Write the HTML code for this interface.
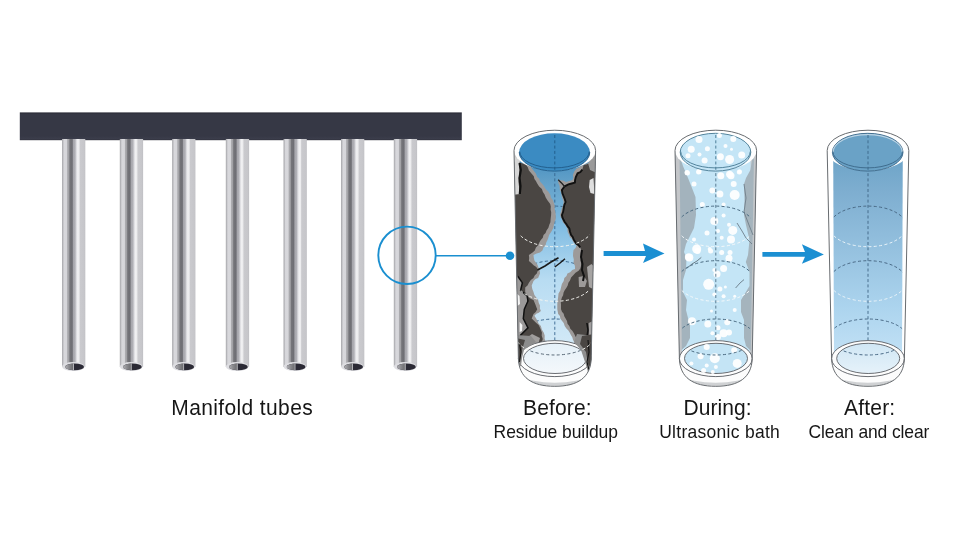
<!DOCTYPE html>
<html><head><meta charset="utf-8">
<style>
html,body{margin:0;padding:0;background:#fff;}
body{width:960px;height:540px;overflow:hidden;position:relative;font-family:"Liberation Sans",sans-serif;color:#161616;}
svg{position:absolute;left:0;top:0;}
.lbl{position:absolute;white-space:nowrap;line-height:1;}
.t1{font-size:21px;transform:scaleY(1.045);transform-origin:0 18px;}
.t2{font-size:17.5px;transform:scaleY(1.04);transform-origin:0 14px;}
</style></head>
<body>
<svg width="960" height="540" viewBox="0 0 960 540">
<defs>
  <linearGradient id="tubeG" x1="0" x2="1" y1="0" y2="0">
    <stop offset="0" stop-color="#a8a8ac"/>
    <stop offset="0.04" stop-color="#b8b8bc"/>
    <stop offset="0.09" stop-color="#d8d8dc"/>
    <stop offset="0.2" stop-color="#d6d6da"/>
    <stop offset="0.24" stop-color="#acacb0"/>
    <stop offset="0.29" stop-color="#a2a2a6"/>
    <stop offset="0.34" stop-color="#747479"/>
    <stop offset="0.44" stop-color="#6e6e74"/>
    <stop offset="0.49" stop-color="#a6a6ac"/>
    <stop offset="0.56" stop-color="#b0b0b6"/>
    <stop offset="0.62" stop-color="#dcdce0"/>
    <stop offset="0.67" stop-color="#f0f0f2"/>
    <stop offset="0.73" stop-color="#ececee"/>
    <stop offset="0.78" stop-color="#cacace"/>
    <stop offset="0.96" stop-color="#c6c6ca"/>
    <stop offset="1" stop-color="#bcbcc0"/>
  </linearGradient>
  <filter id="soft" x="-50%" y="-50%" width="200%" height="200%"><feGaussianBlur stdDeviation="0.35"/></filter>
  <linearGradient id="holeG" x1="0" x2="1" y1="0" y2="0">
    <stop offset="0" stop-color="#b0b0b4"/>
    <stop offset="0.5" stop-color="#8a8a8e"/>
    <stop offset="1" stop-color="#6c6c70"/>
  </linearGradient>
  <linearGradient id="barG" x1="0" x2="0" y1="0" y2="1">
    <stop offset="0" stop-color="#2a2b36"/>
    <stop offset="0.08" stop-color="#363845"/>
    <stop offset="0.85" stop-color="#363845"/>
    <stop offset="0.95" stop-color="#3b3d4b"/>
    <stop offset="1" stop-color="#30313c"/>
  </linearGradient>
  <linearGradient id="gBefore" gradientUnits="userSpaceOnUse" x1="0" y1="150" x2="0" y2="360">
    <stop offset="0" stop-color="#3d8ac0"/>
    <stop offset="0.15" stop-color="#62a0c8"/>
    <stop offset="0.36" stop-color="#80bce2"/>
    <stop offset="0.62" stop-color="#b8dcf2"/>
    <stop offset="1" stop-color="#d8ecf8"/>
  </linearGradient>
  <linearGradient id="gAfter" gradientUnits="userSpaceOnUse" x1="0" y1="150" x2="0" y2="360">
    <stop offset="0" stop-color="#6aa2c6"/>
    <stop offset="0.2" stop-color="#7eaed0"/>
    <stop offset="0.75" stop-color="#acd4ee"/>
    <stop offset="1" stop-color="#c4e2f6"/>
  </linearGradient>
  <linearGradient id="gBaseB" gradientUnits="userSpaceOnUse" x1="0" y1="342" x2="0" y2="374">
    <stop offset="0" stop-color="#e4f0f8"/>
    <stop offset="1" stop-color="#f4f8fb"/>
  </linearGradient>
  <linearGradient id="gBaseA" gradientUnits="userSpaceOnUse" x1="0" y1="342" x2="0" y2="374">
    <stop offset="0" stop-color="#cfe6f4"/>
    <stop offset="1" stop-color="#e6f2fa"/>
  </linearGradient>
</defs>
<rect x="19.8" y="112.4" width="442" height="27.8" fill="url(#barG)"/>
<g transform="translate(62,0)"><rect x="0" y="139" width="23.3" height="228" fill="url(#tubeG)"/><ellipse cx="11.4" cy="366.6" rx="11.4" ry="4.5" fill="#dedee2"/><ellipse cx="12.6" cy="366.9" rx="9.4" ry="3.3" fill="#2b2a35"/><path d="M3.2,366.9 A9.4,3.3 0 0 1 11.2,363.65 V370.15 A9.4,3.3 0 0 1 3.2,366.9 Z" fill="url(#holeG)"/><line x1="11.5" y1="363.6" x2="11.5" y2="370.2" stroke="#d4d4d8" stroke-width="0.8"/></g>
<g transform="translate(119.8,0)"><rect x="0" y="139" width="23.3" height="228" fill="url(#tubeG)"/><ellipse cx="11.4" cy="366.6" rx="11.4" ry="4.5" fill="#dedee2"/><ellipse cx="12.6" cy="366.9" rx="9.4" ry="3.3" fill="#2b2a35"/><path d="M3.2,366.9 A9.4,3.3 0 0 1 11.2,363.65 V370.15 A9.4,3.3 0 0 1 3.2,366.9 Z" fill="url(#holeG)"/><line x1="11.5" y1="363.6" x2="11.5" y2="370.2" stroke="#d4d4d8" stroke-width="0.8"/></g>
<g transform="translate(172.1,0)"><rect x="0" y="139" width="23.3" height="228" fill="url(#tubeG)"/><ellipse cx="11.4" cy="366.6" rx="11.4" ry="4.5" fill="#dedee2"/><ellipse cx="12.6" cy="366.9" rx="9.4" ry="3.3" fill="#2b2a35"/><path d="M3.2,366.9 A9.4,3.3 0 0 1 11.2,363.65 V370.15 A9.4,3.3 0 0 1 3.2,366.9 Z" fill="url(#holeG)"/><line x1="11.5" y1="363.6" x2="11.5" y2="370.2" stroke="#d4d4d8" stroke-width="0.8"/></g>
<g transform="translate(225.8,0)"><rect x="0" y="139" width="23.3" height="228" fill="url(#tubeG)"/><ellipse cx="11.4" cy="366.6" rx="11.4" ry="4.5" fill="#dedee2"/><ellipse cx="12.6" cy="366.9" rx="9.4" ry="3.3" fill="#2b2a35"/><path d="M3.2,366.9 A9.4,3.3 0 0 1 11.2,363.65 V370.15 A9.4,3.3 0 0 1 3.2,366.9 Z" fill="url(#holeG)"/><line x1="11.5" y1="363.6" x2="11.5" y2="370.2" stroke="#d4d4d8" stroke-width="0.8"/></g>
<g transform="translate(283.5,0)"><rect x="0" y="139" width="23.3" height="228" fill="url(#tubeG)"/><ellipse cx="11.4" cy="366.6" rx="11.4" ry="4.5" fill="#dedee2"/><ellipse cx="12.6" cy="366.9" rx="9.4" ry="3.3" fill="#2b2a35"/><path d="M3.2,366.9 A9.4,3.3 0 0 1 11.2,363.65 V370.15 A9.4,3.3 0 0 1 3.2,366.9 Z" fill="url(#holeG)"/><line x1="11.5" y1="363.6" x2="11.5" y2="370.2" stroke="#d4d4d8" stroke-width="0.8"/></g>
<g transform="translate(341,0)"><rect x="0" y="139" width="23.3" height="228" fill="url(#tubeG)"/><ellipse cx="11.4" cy="366.6" rx="11.4" ry="4.5" fill="#dedee2"/><ellipse cx="12.6" cy="366.9" rx="9.4" ry="3.3" fill="#2b2a35"/><path d="M3.2,366.9 A9.4,3.3 0 0 1 11.2,363.65 V370.15 A9.4,3.3 0 0 1 3.2,366.9 Z" fill="url(#holeG)"/><line x1="11.5" y1="363.6" x2="11.5" y2="370.2" stroke="#d4d4d8" stroke-width="0.8"/></g>
<g transform="translate(393.8,0)"><rect x="0" y="139" width="23.3" height="228" fill="url(#tubeG)"/><ellipse cx="11.4" cy="366.6" rx="11.4" ry="4.5" fill="#dedee2"/><ellipse cx="12.6" cy="366.9" rx="9.4" ry="3.3" fill="#2b2a35"/><path d="M3.2,366.9 A9.4,3.3 0 0 1 11.2,363.65 V370.15 A9.4,3.3 0 0 1 3.2,366.9 Z" fill="url(#holeG)"/><line x1="11.5" y1="363.6" x2="11.5" y2="370.2" stroke="#d4d4d8" stroke-width="0.8"/></g>
<circle cx="407" cy="255.3" r="28.7" fill="none" stroke="#1a8fd0" stroke-width="1.9"/>
<line x1="435.7" y1="255.8" x2="510" y2="255.8" stroke="#1a8fd0" stroke-width="1.6"/>
<circle cx="510" cy="255.8" r="4.3" fill="#1a8fd0"/>
<path d="M603.6,251 H645 L643,243.5 L664.5,253.4 L643,263 L646,256 H603.6 Z" fill="#1b8fd2"/>
<path d="M762.4,252.1 H805 L801.9,244.2 L823.9,254.4 L801.9,263.8 L805,256.8 H762.4 Z" fill="#1b8fd2"/>
<g id="before">
<clipPath id="cbB"><path d="M514.00,150.5 L518.40,358.6 C519.00,377.6 531.80,386.3 554.80,386.3 C577.80,386.3 590.60,377.6 591.20,358.6 L595.60,150.5 Z"/></clipPath>
<clipPath id="clB"><path d="M520.00,151.5 L520.80,362 L588.80,362 L589.60,151.5 Z"/></clipPath>
<g clip-path="url(#cbB)">
<path d="M514.00,150.5 L518.40,358.6 C519.00,377.6 531.80,386.3 554.80,386.3 C577.80,386.3 590.60,377.6 591.20,358.6 L595.60,150.5 Z" fill="#c9c9c9"/>
<path d="M520.00,151.5 L520.80,362 L588.80,362 L589.60,151.5 Z" fill="url(#gBefore)"/>
<g clip-path="url(#clB)">
<path d="M516.30,226.40 A38.50,20.30 0 0 1 593.30,226.40" fill="none" stroke="#3e6a90" stroke-width="1.0" stroke-dasharray="3 2.3"/>
<path d="M516.30,281.00 A38.50,20.30 0 0 1 593.30,281.00" fill="none" stroke="#3e6a90" stroke-width="1.0" stroke-dasharray="3 2.3"/>
<path d="M516.30,337.00 A38.50,18.00 0 0 1 593.30,337.00" fill="none" stroke="#3e6a90" stroke-width="1.0" stroke-dasharray="3 2.3"/>
</g>
<line x1="554.80" y1="136" x2="554.80" y2="343" stroke="#34658e" stroke-width="0.9" stroke-dasharray="3 2.3"/>
<path d="M505.0,160.0 L507.8,160.5 L510.5,161.0 L513.2,161.5 L516.0,162.0 L518.8,162.2 L521.5,163.3 L524.3,163.6 L527.0,164.5 L529.8,165.0 L531.5,167.9 L533.5,170.6 L535.9,173.5 L537.2,177.0 L539.3,178.8 L540.0,181.6 L541.9,183.5 L544.0,186.1 L545.6,189.0 L548.2,191.6 L550.2,194.6 L551.0,197.7 L553.0,200.2 L553.9,202.9 L554.8,205.7 L554.6,208.8 L555.4,211.9 L555.7,215.0 L555.7,219.3 L554.6,222.0 L553.9,224.8 L553.4,227.8 L552.0,230.4 L550.6,232.8 L549.1,235.1 L548.3,237.8 L547.4,240.3 L546.2,242.6 L545.6,245.2 L543.5,247.5 L542.4,250.5 L540.0,252.6 L536.6,253.5 L533.5,255.0 L533.8,257.8 L534.4,260.6 L537.2,264.3 L538.4,267.3 L539.7,270.2 L540.0,273.5 L538.1,278.1 L535.5,279.1 L533.5,280.9 L532.6,283.3 L531.7,285.6 L532.3,288.9 L533.5,292.0 L534.4,295.0 L536.3,297.6 L538.1,300.0 L538.8,302.9 L540.0,305.6 L539.9,308.4 L540.9,311.1 L538.8,312.8 L536.3,313.8 L534.4,315.7 L535.9,318.0 L537.2,320.4 L538.5,323.5 L540.9,325.9 L541.8,329.4 L543.7,332.4 L544.7,335.6 L544.6,338.9 L545.8,341.8 L546.0,345.0 L543.4,345.3 L540.9,345.6 L538.3,345.9 L535.8,346.2 L533.2,346.6 L530.6,346.9 L528.1,347.2 L525.5,347.5 L522.9,347.8 L520.4,348.1 L517.8,348.4 L515.2,348.8 L512.7,349.1 L510.1,349.4 L507.6,349.7 L505.0,350.0 Z" fill="#9d9a99"/>
<path d="M505.0,160.0 L507.8,160.5 L510.5,161.0 L513.2,161.5 L516.0,162.0 L518.6,162.4 L521.2,163.0 L523.6,164.1 L526.1,165.0 L527.9,167.6 L528.9,170.6 L532.1,174.3 L533.8,176.3 L534.4,178.9 L535.9,181.1 L537.2,183.5 L539.1,186.6 L541.9,189.0 L542.9,192.0 L544.6,194.6 L545.7,197.6 L547.4,200.2 L550.2,203.9 L550.8,206.6 L550.6,209.5 L551.2,212.2 L551.1,215.0 L550.6,219.3 L550.4,222.2 L549.3,224.8 L548.4,227.8 L546.5,230.4 L545.6,233.0 L543.5,235.1 L542.8,237.8 L540.8,240.0 L539.3,242.5 L538.1,245.2 L535.9,247.4 L534.8,250.4 L532.6,252.6 L528.9,255.0 L529.2,258.0 L528.9,261.0 L531.3,263.1 L533.6,265.3 L536.3,267.0 L538.1,269.8 L536.8,273.5 L534.7,275.5 L533.5,278.1 L530.8,280.1 L528.9,282.8 L527.5,285.5 L525.2,287.4 L525.2,292.0 L526.9,294.9 L528.9,297.6 L531.1,299.0 L533.5,300.0 L535.4,304.6 L536.3,307.0 L537.2,309.3 L535.7,311.9 L533.5,313.9 L531.7,318.5 L534.0,320.8 L536.3,323.1 L538.6,325.1 L540.0,327.8 L541.9,332.4 L541.7,335.7 L542.8,338.9 L541.9,341.9 L542.0,345.0 L539.4,345.4 L536.7,345.7 L534.1,346.1 L531.4,346.4 L528.8,346.8 L526.1,347.1 L523.5,347.5 L520.9,347.9 L518.2,348.2 L515.6,348.6 L512.9,348.9 L510.3,349.3 L507.6,349.6 L505.0,350.0 Z" fill="#4a4643"/>
<path d="M505,150 L519,160 L519.5,170 L518.5,182 L519.8,194 L505,196 Z" fill="#d6d6d6"/>
<path d="M519.5,163 L520.8,170 L519.5,178 L520.5,186 L519.8,194" fill="none" stroke="#111" stroke-width="2.2"/>
<path d="M505,274 L517.8,276.3 L522.4,282.8 L520.6,290.2 L527,295.7 L527,302.8 L524.3,309.3 L523.3,318.5 L528,327.8 L520.6,335.2 L519.6,345 L505,350 Z" fill="#9b9999"/>
<path d="M516,293 L519.5,296 L520,304 L516,307 Z" fill="#f4f4f4"/>
<path d="M519.6,322 L522.4,325 L522,331 L519.6,332 Z" fill="#f4f4f4"/>
<path d="M517.8,276.3 L522.4,282.8 L520.6,290.2 L527,295.7 L528,301 L524.3,309.3 L523.3,318.5 L528,327.8 L520.6,335.2 L519.6,342" fill="none" stroke="#111" stroke-width="1.5"/>
<path d="M532,334 L540,338 L538,345 L528,346 L524,340 Z" fill="#a09e9d"/>
<path d="M600.0,160.0 L596.9,160.8 L594.0,162.0 L591.3,162.4 L588.7,163.1 L586.0,163.7 L583.6,165.0 L581.1,166.0 L579.0,167.5 L576.4,168.8 L574.5,171.0 L572.8,175.0 L573.3,177.5 L572.5,180.0 L569.3,181.0 L566.0,182.0 L563.6,180.7 L560.9,180.3 L558.2,179.8 L558.3,183.0 L559.5,186.0 L559.8,190.0 L561.3,193.1 L561.7,196.5 L562.7,199.2 L563.6,202.0 L563.0,205.3 L561.7,208.5 L560.8,211.7 L560.0,215.0 L560.8,217.4 L562.4,219.4 L562.7,222.0 L564.6,223.9 L566.0,226.2 L567.3,228.5 L567.6,231.9 L569.1,235.0 L570.0,237.4 L572.0,239.1 L572.9,241.5 L574.5,243.6 L576.6,245.2 L575.5,247.9 L573.5,250.0 L573.1,253.0 L573.0,256.0 L573.8,259.5 L573.5,263.0 L574.9,265.8 L575.0,268.9 L572.2,270.0 L570.1,272.3 L567.4,273.5 L566.5,276.1 L564.3,278.1 L563.7,280.9 L561.9,283.9 L561.0,287.4 L560.3,290.6 L558.5,293.4 L558.2,296.7 L557.8,299.5 L557.4,302.2 L557.3,305.0 L557.3,309.3 L558.2,313.9 L559.9,316.0 L560.4,318.8 L562.1,320.9 L563.7,323.1 L564.7,325.9 L566.4,328.4 L568.4,330.6 L569.8,332.8 L570.9,335.1 L572.3,337.3 L573.0,339.8 L574.2,342.2 L575.0,344.7 L575.4,347.4 L575.8,350.0 L578.2,351.1 L580.9,351.4 L583.0,353.2 L585.6,353.8 L588.0,354.8 L590.1,356.4 L592.8,357.0 L595.3,357.8 L597.6,359.0 L600.0,360.0 Z" fill="#9d9a99"/>
<path d="M600.0,160.0 L596.9,160.6 L594.0,162.0 L591.3,162.3 L588.8,163.5 L586.3,164.6 L583.6,165.0 L582.3,169.6 L580.4,172.0 L577.6,173.3 L575.8,177.0 L575.1,179.8 L574.9,182.6 L571.7,183.5 L568.4,184.4 L564.7,186.3 L561.9,190.0 L562.4,193.3 L563.7,196.5 L564.8,199.2 L565.6,202.0 L564.3,205.1 L563.7,208.5 L563.1,211.8 L561.9,215.0 L562.4,217.5 L563.5,219.8 L564.7,222.0 L566.3,224.1 L567.7,226.4 L569.3,228.5 L570.0,231.8 L571.1,235.0 L572.7,236.9 L573.6,239.4 L574.9,241.5 L576.4,243.7 L578.6,245.2 L580.2,247.4 L581.3,250.0 L580.8,252.7 L580.8,255.3 L581.0,258.0 L580.5,260.7 L581.2,263.3 L581.0,266.0 L580.3,268.6 L578.6,270.7 L575.5,272.7 L573.0,275.4 L571.1,277.6 L570.0,280.4 L568.4,282.8 L567.7,285.5 L566.3,287.9 L564.7,290.2 L563.6,292.6 L563.1,295.2 L561.9,297.6 L560.8,301.2 L561.0,305.0 L561.0,309.3 L562.0,311.7 L563.7,313.7 L564.3,316.3 L565.6,318.5 L567.0,320.9 L567.5,323.7 L569.3,325.9 L570.3,328.7 L572.3,330.8 L573.9,333.3 L575.6,336.7 L577.6,339.8 L578.5,342.5 L579.6,345.1 L580.5,347.7 L582.3,350.0 L584.8,350.7 L586.8,352.3 L588.9,353.9 L591.3,354.8 L593.3,356.4 L595.9,357.0 L597.5,359.2 L600.0,360.0 Z" fill="#4a4643"/>
<path d="M600,150 L588,163 L590,170 L594.5,172 L600,175 Z" fill="#9a9a9a"/>
<path d="M589.7,180 L593.5,178 L594.5,194 L590.5,193 L589,187 Z" fill="#dedede"/>
<path d="M587,267 L591.5,264 L595,268 L595,290 L589,287 L588,277 Z" fill="#a6a4a3"/>
<path d="M578.6,277 L584,276 L586.9,281 L585,287 L579,287 Z" fill="#9d9a99"/>
<path d="M588.7,323 L595,320 L595,352 L589,350 Z" fill="#a2a0a0"/>
<path d="M582.3,169.6 L580.4,172.0 L577.6,173.3 L575.8,177.0 L575.1,179.8 L574.9,182.6 L571.7,183.5 L568.4,184.4 L564.7,186.3 L561.9,190.0 L562.4,193.3 L563.7,196.5 L564.8,199.2 L565.6,202.0 L564.3,205.1 L563.7,208.5 L563.1,211.8 L561.9,215.0 L562.4,217.5 L563.5,219.8 L564.7,222.0 L566.3,224.1 L567.7,226.4 L569.3,228.5 L570.0,231.8 L571.1,235.0 L572.7,236.9 L573.6,239.4 L574.9,241.5 L576.4,243.7 L578.6,245.2 L580.2,247.4" fill="none" stroke="#111" stroke-width="1.9"/>
<path d="M558.2,179.8 L562,183.5 L565,187" fill="none" stroke="#222" stroke-width="1.3"/>
<path d="M582,250 L581,257 L582.5,264 L582,270 L584,276 L583,281" fill="none" stroke="#111" stroke-width="2"/>
<path d="M586.9,323 L588,330 L587,337 L589,344 L588,350" fill="none" stroke="#111" stroke-width="1.6"/>
<path d="M537.5,270 L545,266 L551,262 L558.5,257.8" fill="none" stroke="#1a1a1a" stroke-width="1.6"/>
<path d="M554.8,267 L560,263 L565,258.7" fill="none" stroke="#1a1a1a" stroke-width="1.5"/>
<g clip-path="url(#clB)">
<path d="M516.30,226.40 A38.50,20.30 0 0 0 593.30,226.40" fill="none" stroke="#f4f4f0" stroke-width="1.0" stroke-dasharray="3 2.3"/>
<path d="M516.30,281.00 A38.50,20.30 0 0 0 593.30,281.00" fill="none" stroke="#f4f4f0" stroke-width="1.0" stroke-dasharray="3 2.3"/>
</g>
</g>
<path d="M518.40,358.6 A36.4,18 0 0 0 591.20,358.6 C590.60,377.6 577.80,386.3 554.80,386.3 C531.80,386.3 519.00,377.6 518.40,358.6 Z" fill="#fcfcfc"/>
<g clip-path="url(#cbB)"><path d="M518.80,376.3 C530.80,386.8 578.80,386.8 590.80,376.3" fill="none" stroke="#cfd1d3" stroke-width="3"/></g>
<ellipse cx="554.80" cy="358.6" rx="36.4" ry="18" fill="#fdfdfd" stroke="#5a5e63" stroke-width="0.9"/>
<ellipse cx="555.00" cy="358.4" rx="31.5" ry="15.1" fill="url(#gBaseB)" stroke="#5a5e63" stroke-width="0.9"/>
<clipPath id="bd554"><ellipse cx="555.00" cy="358.4" rx="31.5" ry="15.1"/></clipPath>
<g clip-path="url(#bd554)"><path d="M516.30,337.00 A38.50,18.00 0 0 0 593.30,337.00" fill="none" stroke="#5a6a78" stroke-width="1.0" stroke-dasharray="3 2.3"/></g>
<g clip-path="url(#cbB)">
<path d="M516,335 L531,336 L536,342 L530,346 L524,350 L522,358 L521,366 L516,368 Z" fill="#8c8c8c"/>
<path d="M516,338 L525,340 L522,350 L520,360 L516,366 Z" fill="#4a4643"/>
<path d="M519.5,344 L521,352 L519.5,362" fill="none" stroke="#111" stroke-width="1"/>
<path d="M594,336 L577,334 L574,342 L581,350 L585,362 L588,372 L594,378 Z" fill="#8f8f8f"/>
<path d="M594,334 L582,336 L580,344 L586,352 L588,364 L594,372 Z" fill="#4a4643"/>
<path d="M588,340 L589,352 L587,362 L590,374" fill="none" stroke="#111" stroke-width="1.1"/>
</g>
<clipPath id="nbB"><path clip-rule="evenodd" d="M500,300 H610 V400 H500 Z M523.50,358.4 A31.5,15.1 0 1 0 586.50,358.4 A31.5,15.1 0 1 0 523.50,358.4 Z"/></clipPath>
<g clip-path="url(#nbB)"><g clip-path="url(#cbB)"><path d="M516.30,337.00 A38.50,18.00 0 0 0 593.30,337.00" fill="none" stroke="#f4f4f0" stroke-width="1.0" stroke-dasharray="3 2.3"/></g></g>
<ellipse cx="554.80" cy="150.5" rx="40.8" ry="20.3" fill="#ffffff"/>
<ellipse cx="554.50" cy="152.2" rx="35.3" ry="18.9" fill="#3b8bc2"/>
<path d="M519.20,152.20 A35.30,18.90 0 0 0 589.80,152.20" fill="none" stroke="#1f5a88" stroke-width="0.9"/>
<path d="M519.70,151.50 A34.80,16.40 0 0 0 589.30,151.50" fill="none" stroke="#1f5a88" stroke-width="0.9"/>
<path d="M514.00,150.50 A40.80,20.30 0 0 1 595.60,150.50" fill="none" stroke="#686c70" stroke-width="1"/>
<path d="M514.00,150.5 L518.40,358.6 C519.00,377.6 531.80,386.3 554.80,386.3 C577.80,386.3 590.60,377.6 591.20,358.6 L595.60,150.5" fill="none" stroke="#686c70" stroke-width="1"/>
<line x1="554.80" y1="135" x2="554.80" y2="170" stroke="#1f5a88" stroke-width="0.9" stroke-dasharray="3 2.3"/>
</g>
<g id="during">
<clipPath id="cbD"><path d="M675.00,150.5 L679.40,358.6 C680.00,377.6 692.80,386.3 715.80,386.3 C738.80,386.3 751.60,377.6 752.20,358.6 L756.60,150.5 Z"/></clipPath>
<clipPath id="clD"><path d="M681.00,151.5 L681.80,362 L749.80,362 L750.60,151.5 Z"/></clipPath>
<g clip-path="url(#cbD)">
<path d="M675.00,150.5 L679.40,358.6 C680.00,377.6 692.80,386.3 715.80,386.3 C738.80,386.3 751.60,377.6 752.20,358.6 L756.60,150.5 Z" fill="#c9cdd0"/>
<path d="M681.00,151.5 L681.80,362 L749.80,362 L750.60,151.5 Z" fill="#c4e5f6"/>
<path d="M670.0,150.0 L681.0,160.0 L683.0,166.0 L688.0,178.0 L692.0,188.0 L695.5,197.0 L696.0,215.0 L694.0,228.0 L690.0,236.0 L686.0,244.0 L684.0,252.0 L686.5,258.0 L686.0,270.0 L683.0,280.0 L683.0,292.0 L687.0,300.0 L686.0,310.0 L688.0,318.0 L690.0,325.0 L690.0,338.0 L686.0,346.0 L670.0,360.0 Z" fill="#a3b3bd"/>
<path d="M760.0,150.0 L752.0,160.0 L750.4,170.0 L746.0,178.0 L744.0,184.0 L744.5,200.0 L744.0,215.0 L746.0,225.0 L749.5,240.0 L748.0,255.0 L745.8,262.0 L749.5,272.0 L749.5,286.0 L741.0,300.0 L741.0,312.0 L744.0,320.0 L744.0,338.0 L746.0,346.0 L760.0,360.0 Z" fill="#a5b4bd"/>
<path d="M675.00,150.5 L679.40,358.6 L681.90,358.6 L679.50,150.5 Z" fill="#c4c6c9"/>
<path d="M756.60,150.5 L752.20,358.6 L750.70,358.6 L754.10,150.5 Z" fill="#c4c7ca"/>
<path d="M686.5,268.5 L692,264 L697,261 L701.3,257.4" fill="none" stroke="#5f707c" stroke-width="0.9"/>
<path d="M735.6,288 L740,283 L744,279.6" fill="none" stroke="#6a7a86" stroke-width="0.9"/>
<path d="M744,184 L746,198 L744,212 L749,225 L753,235" fill="none" stroke="#6f7f8a" stroke-width="0.9"/>
<path d="M737,223 L742,231 L746,238 L752,244" fill="none" stroke="#6f7f8a" stroke-width="0.9"/>
<circle cx="687.4" cy="173" r="2.5" fill="#ffffff" fill-opacity="0.93" filter="url(#soft)"/>
<circle cx="698.6" cy="172" r="2.5" fill="#ffffff" fill-opacity="0.93" filter="url(#soft)"/>
<circle cx="694" cy="184" r="2.5" fill="#ffffff" fill-opacity="0.93" filter="url(#soft)"/>
<circle cx="712.4" cy="190.6" r="3" fill="#ffffff" fill-opacity="0.93" filter="url(#soft)"/>
<circle cx="720.8" cy="175.7" r="3.5" fill="#ffffff" fill-opacity="0.93" filter="url(#soft)"/>
<circle cx="731" cy="175.7" r="3.5" fill="#ffffff" fill-opacity="0.93" filter="url(#soft)"/>
<circle cx="733.7" cy="184" r="3" fill="#ffffff" fill-opacity="0.93" filter="url(#soft)"/>
<circle cx="739.3" cy="172" r="2.5" fill="#ffffff" fill-opacity="0.93" filter="url(#soft)"/>
<circle cx="734.7" cy="195" r="5" fill="#ffffff" fill-opacity="0.93" filter="url(#soft)"/>
<circle cx="719.9" cy="194" r="3.5" fill="#ffffff" fill-opacity="0.93" filter="url(#soft)"/>
<circle cx="723.6" cy="204.4" r="2" fill="#ffffff" fill-opacity="0.93" filter="url(#soft)"/>
<circle cx="702.3" cy="204.4" r="2.5" fill="#ffffff" fill-opacity="0.93" filter="url(#soft)"/>
<circle cx="714.3" cy="221" r="4" fill="#ffffff" fill-opacity="0.93" filter="url(#soft)"/>
<circle cx="723.6" cy="215.6" r="2" fill="#ffffff" fill-opacity="0.93" filter="url(#soft)"/>
<circle cx="729" cy="224.8" r="2" fill="#ffffff" fill-opacity="0.93" filter="url(#soft)"/>
<circle cx="732.8" cy="230.4" r="4.5" fill="#ffffff" fill-opacity="0.93" filter="url(#soft)"/>
<circle cx="707" cy="233" r="2.5" fill="#ffffff" fill-opacity="0.93" filter="url(#soft)"/>
<circle cx="718" cy="231" r="2" fill="#ffffff" fill-opacity="0.93" filter="url(#soft)"/>
<circle cx="721.7" cy="237.8" r="2" fill="#ffffff" fill-opacity="0.93" filter="url(#soft)"/>
<circle cx="731" cy="239.6" r="4" fill="#ffffff" fill-opacity="0.93" filter="url(#soft)"/>
<circle cx="694" cy="239.6" r="2" fill="#ffffff" fill-opacity="0.93" filter="url(#soft)"/>
<circle cx="696.7" cy="249" r="4.5" fill="#ffffff" fill-opacity="0.93" filter="url(#soft)"/>
<circle cx="709.7" cy="249" r="2" fill="#ffffff" fill-opacity="0.93" filter="url(#soft)"/>
<circle cx="721.7" cy="252.6" r="2.5" fill="#ffffff" fill-opacity="0.93" filter="url(#soft)"/>
<circle cx="688.4" cy="257" r="3.5" fill="#ffffff" fill-opacity="0.93" filter="url(#soft)"/>
<circle cx="730" cy="252.6" r="2.5" fill="#ffffff" fill-opacity="0.93" filter="url(#soft)"/>
<circle cx="689.3" cy="257.4" r="4" fill="#ffffff" fill-opacity="0.93" filter="url(#soft)"/>
<circle cx="697.6" cy="251" r="3" fill="#ffffff" fill-opacity="0.93" filter="url(#soft)"/>
<circle cx="710.6" cy="251" r="2.5" fill="#ffffff" fill-opacity="0.93" filter="url(#soft)"/>
<circle cx="729" cy="258.3" r="3.5" fill="#ffffff" fill-opacity="0.93" filter="url(#soft)"/>
<circle cx="723.6" cy="268.5" r="3.5" fill="#ffffff" fill-opacity="0.93" filter="url(#soft)"/>
<circle cx="717" cy="274" r="3.5" fill="#ffffff" fill-opacity="0.93" filter="url(#soft)"/>
<circle cx="714.3" cy="270" r="2" fill="#ffffff" fill-opacity="0.93" filter="url(#soft)"/>
<circle cx="708.7" cy="284.3" r="5.5" fill="#ffffff" fill-opacity="0.93" filter="url(#soft)"/>
<circle cx="719.9" cy="288.9" r="2.5" fill="#ffffff" fill-opacity="0.93" filter="url(#soft)"/>
<circle cx="725.4" cy="287" r="1.5" fill="#ffffff" fill-opacity="0.93" filter="url(#soft)"/>
<circle cx="714.3" cy="294.4" r="2" fill="#ffffff" fill-opacity="0.93" filter="url(#soft)"/>
<circle cx="723.6" cy="296.3" r="2" fill="#ffffff" fill-opacity="0.93" filter="url(#soft)"/>
<circle cx="734.7" cy="296.3" r="1.5" fill="#ffffff" fill-opacity="0.93" filter="url(#soft)"/>
<circle cx="711.5" cy="311" r="1.5" fill="#ffffff" fill-opacity="0.93" filter="url(#soft)"/>
<circle cx="734.7" cy="310" r="2" fill="#ffffff" fill-opacity="0.93" filter="url(#soft)"/>
<circle cx="692" cy="321.3" r="4" fill="#ffffff" fill-opacity="0.93" filter="url(#soft)"/>
<circle cx="707.8" cy="324" r="3.5" fill="#ffffff" fill-opacity="0.93" filter="url(#soft)"/>
<circle cx="718" cy="327.8" r="2.5" fill="#ffffff" fill-opacity="0.93" filter="url(#soft)"/>
<circle cx="727.3" cy="322.2" r="3" fill="#ffffff" fill-opacity="0.93" filter="url(#soft)"/>
<circle cx="723.6" cy="333.3" r="4" fill="#ffffff" fill-opacity="0.93" filter="url(#soft)"/>
<circle cx="729" cy="332.4" r="3" fill="#ffffff" fill-opacity="0.93" filter="url(#soft)"/>
<circle cx="718" cy="337" r="3" fill="#ffffff" fill-opacity="0.93" filter="url(#soft)"/>
<circle cx="712.4" cy="333.3" r="2" fill="#ffffff" fill-opacity="0.93" filter="url(#soft)"/>
<circle cx="687" cy="172.4" r="2.5" fill="#ffffff" fill-opacity="0.93" filter="url(#soft)"/>
<circle cx="699" cy="171.5" r="2.5" fill="#ffffff" fill-opacity="0.93" filter="url(#soft)"/>
<circle cx="729.6" cy="174.3" r="3.5" fill="#ffffff" fill-opacity="0.93" filter="url(#soft)"/>
<circle cx="739.8" cy="171.5" r="2" fill="#ffffff" fill-opacity="0.93" filter="url(#soft)"/>
<g clip-path="url(#clD)">
<path d="M677.30,226.40 A38.50,20.30 0 0 1 754.30,226.40" fill="none" stroke="#4a6a80" stroke-width="1.0" stroke-dasharray="3 2.3"/>
<path d="M677.30,281.00 A38.50,20.30 0 0 1 754.30,281.00" fill="none" stroke="#4a6a80" stroke-width="1.0" stroke-dasharray="3 2.3"/>
<path d="M677.30,337.00 A38.50,18.00 0 0 1 754.30,337.00" fill="none" stroke="#4a6a80" stroke-width="1.0" stroke-dasharray="3 2.3"/>
</g>
<g clip-path="url(#clD)">
<path d="M677.30,226.40 A38.50,20.30 0 0 0 754.30,226.40" fill="none" stroke="#f4f8fa" stroke-width="1.0" stroke-dasharray="3 2.3"/>
<path d="M677.30,281.00 A38.50,20.30 0 0 0 754.30,281.00" fill="none" stroke="#f4f8fa" stroke-width="1.0" stroke-dasharray="3 2.3"/>
</g>
<line x1="715.80" y1="136" x2="715.80" y2="343" stroke="#4e7088" stroke-width="0.9" stroke-dasharray="3 2.3"/>
</g>
<path d="M679.40,358.6 A36.4,18 0 0 0 752.20,358.6 C751.60,377.6 738.80,386.3 715.80,386.3 C692.80,386.3 680.00,377.6 679.40,358.6 Z" fill="#fcfcfc"/>
<g clip-path="url(#cbD)"><path d="M679.80,376.3 C691.80,386.8 739.80,386.8 751.80,376.3" fill="none" stroke="#cfd1d3" stroke-width="3"/></g>
<ellipse cx="715.80" cy="358.6" rx="36.4" ry="18" fill="#fdfdfd" stroke="#5a5e63" stroke-width="0.9"/>
<ellipse cx="716.00" cy="358.4" rx="31.5" ry="15.1" fill="#c4e4f5" stroke="#5a5e63" stroke-width="0.9"/>
<circle cx="706.7" cy="347" r="3" fill="#ffffff" fill-opacity="0.93" filter="url(#soft)"/>
<circle cx="714.8" cy="358.3" r="5" fill="#ffffff" fill-opacity="0.93" filter="url(#soft)"/>
<circle cx="737.2" cy="363.4" r="4.5" fill="#ffffff" fill-opacity="0.93" filter="url(#soft)"/>
<circle cx="700.6" cy="356.3" r="3" fill="#ffffff" fill-opacity="0.93" filter="url(#soft)"/>
<circle cx="706.7" cy="365.5" r="2" fill="#ffffff" fill-opacity="0.93" filter="url(#soft)"/>
<circle cx="715.9" cy="367" r="2" fill="#ffffff" fill-opacity="0.93" filter="url(#soft)"/>
<circle cx="734.2" cy="350.2" r="3" fill="#ffffff" fill-opacity="0.93" filter="url(#soft)"/>
<circle cx="703.6" cy="370.5" r="2.5" fill="#ffffff" fill-opacity="0.93" filter="url(#soft)"/>
<circle cx="712.8" cy="372" r="2" fill="#ffffff" fill-opacity="0.93" filter="url(#soft)"/>
<circle cx="691.4" cy="363.4" r="2" fill="#ffffff" fill-opacity="0.93" filter="url(#soft)"/>
<clipPath id="bd715"><ellipse cx="716.00" cy="358.4" rx="31.5" ry="15.1"/></clipPath>
<g clip-path="url(#bd715)"><path d="M677.30,337.00 A38.50,18.00 0 0 0 754.30,337.00" fill="none" stroke="#4a6a80" stroke-width="1.0" stroke-dasharray="3 2.3"/></g>
<ellipse cx="715.80" cy="150.5" rx="40.8" ry="20.3" fill="#ffffff"/>
<ellipse cx="715.50" cy="152.2" rx="35.3" ry="18.9" fill="#c4e5f6" stroke="#457892" stroke-width="0.9"/>
<path d="M680.70,151.50 A34.80,16.40 0 0 0 750.30,151.50" fill="none" stroke="#457892" stroke-width="0.9"/>
<path d="M675.00,150.50 A40.80,20.30 0 0 1 756.60,150.50" fill="none" stroke="#686c70" stroke-width="1"/>
<path d="M675.00,150.5 L679.40,358.6 C680.00,377.6 692.80,386.3 715.80,386.3 C738.80,386.3 751.60,377.6 752.20,358.6 L756.60,150.5" fill="none" stroke="#686c70" stroke-width="1"/>
<circle cx="699" cy="139.6" r="3.5" fill="#ffffff" fill-opacity="0.93" filter="url(#soft)"/>
<circle cx="719.4" cy="135.4" r="2.5" fill="#ffffff" fill-opacity="0.93" filter="url(#soft)"/>
<circle cx="733.3" cy="139" r="3" fill="#ffffff" fill-opacity="0.93" filter="url(#soft)"/>
<circle cx="691.2" cy="149.3" r="3.5" fill="#ffffff" fill-opacity="0.93" filter="url(#soft)"/>
<circle cx="707.4" cy="148.8" r="2.5" fill="#ffffff" fill-opacity="0.93" filter="url(#soft)"/>
<circle cx="725.5" cy="146" r="2" fill="#ffffff" fill-opacity="0.93" filter="url(#soft)"/>
<circle cx="731.5" cy="149.3" r="1.5" fill="#ffffff" fill-opacity="0.93" filter="url(#soft)"/>
<circle cx="699.5" cy="154.4" r="2" fill="#ffffff" fill-opacity="0.93" filter="url(#soft)"/>
<circle cx="704.6" cy="160.4" r="3" fill="#ffffff" fill-opacity="0.93" filter="url(#soft)"/>
<circle cx="720.4" cy="156.7" r="3.5" fill="#ffffff" fill-opacity="0.93" filter="url(#soft)"/>
<circle cx="729.6" cy="159.5" r="4.5" fill="#ffffff" fill-opacity="0.93" filter="url(#soft)"/>
<circle cx="741.7" cy="154.9" r="3.5" fill="#ffffff" fill-opacity="0.93" filter="url(#soft)"/>
<circle cx="688" cy="155.8" r="2.5" fill="#ffffff" fill-opacity="0.93" filter="url(#soft)"/>
<line x1="715.80" y1="135" x2="715.80" y2="170" stroke="#3f7490" stroke-width="0.9" stroke-dasharray="3 2.3"/>
</g>
<g id="after">
<clipPath id="cbA"><path d="M827.20,150.5 L831.60,358.6 C832.20,377.6 845.00,386.3 868.00,386.3 C891.00,386.3 903.80,377.6 904.40,358.6 L908.80,150.5 Z"/></clipPath>
<clipPath id="clA"><path d="M833.20,151.5 L834.00,362 L902.00,362 L902.80,151.5 Z"/></clipPath>
<g clip-path="url(#cbA)">
<path d="M827.20,150.5 L831.60,358.6 C832.20,377.6 845.00,386.3 868.00,386.3 C891.00,386.3 903.80,377.6 904.40,358.6 L908.80,150.5 Z" fill="#ffffff"/>
<path d="M833.20,151.5 L834.00,362 L902.00,362 L902.80,151.5 Z" fill="url(#gAfter)"/>
<g clip-path="url(#clA)">
<path d="M829.50,226.40 A38.50,20.30 0 0 1 906.50,226.40" fill="none" stroke="#4a6a86" stroke-width="1.0" stroke-dasharray="3 2.3"/>
<path d="M829.50,281.00 A38.50,20.30 0 0 1 906.50,281.00" fill="none" stroke="#4a6a86" stroke-width="1.0" stroke-dasharray="3 2.3"/>
<path d="M829.50,337.00 A38.50,18.00 0 0 1 906.50,337.00" fill="none" stroke="#4a6a86" stroke-width="1.0" stroke-dasharray="3 2.3"/>
</g>
<g clip-path="url(#clA)">
<path d="M829.50,226.40 A38.50,20.30 0 0 0 906.50,226.40" fill="none" stroke="#e8f2f8" stroke-width="1.0" stroke-dasharray="3 2.3"/>
<path d="M829.50,281.00 A38.50,20.30 0 0 0 906.50,281.00" fill="none" stroke="#e8f2f8" stroke-width="1.0" stroke-dasharray="3 2.3"/>
</g>
<line x1="868.00" y1="136" x2="868.00" y2="343" stroke="#3e6484" stroke-width="0.9" stroke-dasharray="3 2.3"/>
</g>
<path d="M831.60,358.6 A36.4,18 0 0 0 904.40,358.6 C903.80,377.6 891.00,386.3 868.00,386.3 C845.00,386.3 832.20,377.6 831.60,358.6 Z" fill="#fcfcfc"/>
<g clip-path="url(#cbA)"><path d="M832.00,376.3 C844.00,386.8 892.00,386.8 904.00,376.3" fill="none" stroke="#cfd1d3" stroke-width="3"/></g>
<ellipse cx="868.00" cy="358.6" rx="36.4" ry="18" fill="#fdfdfd" stroke="#5a5e63" stroke-width="0.9"/>
<ellipse cx="868.20" cy="358.4" rx="31.5" ry="15.1" fill="url(#gBaseA)" stroke="#5a5e63" stroke-width="0.9"/>
<clipPath id="bd868"><ellipse cx="868.20" cy="358.4" rx="31.5" ry="15.1"/></clipPath>
<g clip-path="url(#bd868)"><path d="M829.50,337.00 A38.50,18.00 0 0 0 906.50,337.00" fill="none" stroke="#4a6a86" stroke-width="1.0" stroke-dasharray="3 2.3"/></g>
<ellipse cx="868.00" cy="150.5" rx="40.8" ry="20.3" fill="#ffffff"/>
<ellipse cx="867.70" cy="152.2" rx="35.3" ry="18.9" fill="#6aa2c6" stroke="#3a6688" stroke-width="0.9"/>
<path d="M833.10,152.20 A34.60,17.60 0 0 1 902.30,152.20" fill="none" stroke="#ffffff" stroke-opacity="0.55" stroke-width="1.2"/>
<path d="M832.90,151.50 A34.80,16.40 0 0 0 902.50,151.50" fill="none" stroke="#3a6688" stroke-width="0.9"/>
<path d="M827.20,150.50 A40.80,20.30 0 0 1 908.80,150.50" fill="none" stroke="#686c70" stroke-width="1"/>
<path d="M827.20,150.5 L831.60,358.6 C832.20,377.6 845.00,386.3 868.00,386.3 C891.00,386.3 903.80,377.6 904.40,358.6 L908.80,150.5" fill="none" stroke="#686c70" stroke-width="1"/>
<line x1="868.00" y1="135" x2="868.00" y2="170" stroke="#3a6688" stroke-width="0.9" stroke-dasharray="3 2.3"/>
</g>
</svg>
<div class="lbl t1" style="left:171.3px;top:397.3px;letter-spacing:0.37px">Manifold tubes</div>
<div class="lbl t1" style="left:523px;top:397.3px;letter-spacing:0.15px">Before:</div>
<div class="lbl t2" style="left:493.6px;top:424px;letter-spacing:-0.08px">Residue buildup</div>
<div class="lbl t1" style="left:683.6px;top:397.3px;letter-spacing:0.03px">During:</div>
<div class="lbl t2" style="left:659.2px;top:424px;letter-spacing:0.28px">Ultrasonic bath</div>
<div class="lbl t1" style="left:844px;top:397.3px;letter-spacing:0.2px">After:</div>
<div class="lbl t2" style="left:808.6px;top:424px;letter-spacing:-0.13px">Clean and clear</div>
</body></html>
